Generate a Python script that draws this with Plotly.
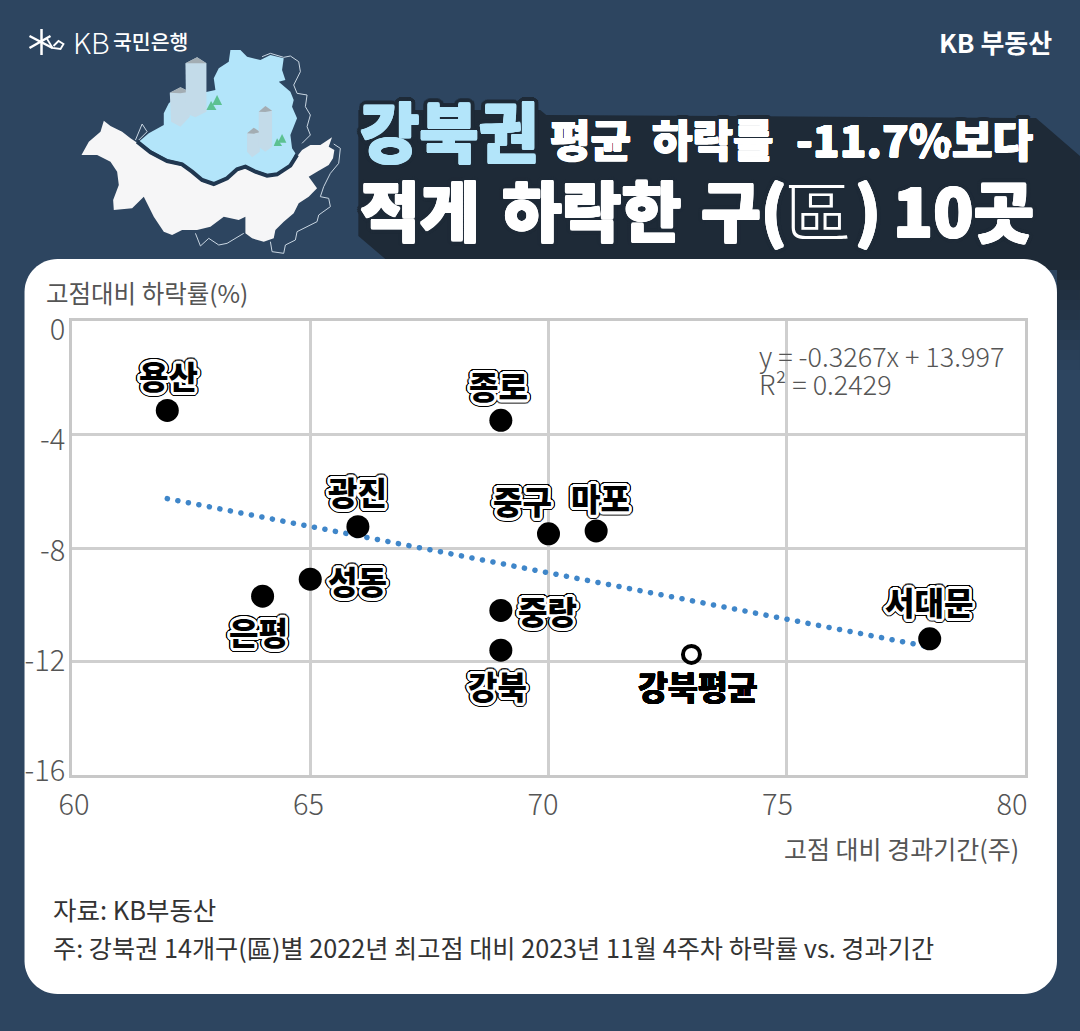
import math
import plotly.graph_objects as go

# values
districts = ["용산", "종로", "광진", "중구", "마포", "성동", "은평", "중랑", "강북", "서대문"]
weeks = [62, 69, 66, 70, 71, 65, 64, 69, 69, 78]
drops = [-3.15, -3.5, -7.25, -7.5, -7.4, -9.1, -9.7, -10.2, -11.6, -11.2]

avg_name = "강북평균"
avg_week = [73]
avg_drop = [-11.75]

trend_x = [62, 78]
trend_y = [-6.26, -11.49]

x_ticks = [60, 65, 70, 75, 80]
y_ticks = [0, -4, -8, -12, -16]
y_ticklabels = ["0", "-4", "-8", "-12", "-16"]

W, H = 1080, 1031
LEFT, RIGHT, TOP, BOTTOM = 71.5, 1025, 321, 775
BG = "#2d4560"
DARK = "#1e2a37"
SKY = "#b3e5fa"
FONT = "Noto Sans CJK KR"


# paper coordinates run over the plot area, so picture pixels are converted from there
def px(x):
    return (x - LEFT) / (RIGHT - LEFT)


def py(y):
    return (BOTTOM - y) / (BOTTOM - TOP)


def poly(points, close=True, scale=1.0):
    parts = []
    for i, (a, b) in enumerate(points):
        parts.append(("M" if i == 0 else "L") + f"{px(a * scale):.5f},{py(b * scale):.5f}")
    return " ".join(parts) + (" Z" if close else "")


def rounded(x0, y0, x1, y1, r):
    k = r * 0.45
    return (
        f"M{px(x0 + r)},{py(y0)} L{px(x1 - r)},{py(y0)} "
        f"C{px(x1 - k)},{py(y0)} {px(x1)},{py(y0 + k)} {px(x1)},{py(y0 + r)} "
        f"L{px(x1)},{py(y1 - r)} "
        f"C{px(x1)},{py(y1 - k)} {px(x1 - k)},{py(y1)} {px(x1 - r)},{py(y1)} "
        f"L{px(x0 + r)},{py(y1)} "
        f"C{px(x0 + k)},{py(y1)} {px(x0)},{py(y1 - k)} {px(x0)},{py(y1 - r)} "
        f"L{px(x0)},{py(y0 + r)} "
        f"C{px(x0)},{py(y0 + k)} {px(x0 + k)},{py(y0)} {px(x0 + r)},{py(y0)} Z"
    )


def ring(radius, color, n=16):
    out = []
    for i in range(n):
        a = 2 * math.pi * i / n
        out.append(f"{radius * math.cos(a):.1f}px {radius * math.sin(a):.1f}px 0 {color}")
    return out


# text-shadow rings stand in for the heavy outlined lettering
label_shadow = ", ".join(ring(1.5, "#ffffff", 12) + ring(2.7, "#ffffff", 16) + ring(4.1, "#000000", 20))
avg_shadow = ", ".join(ring(0.4, "#000000", 8))
title_big = ", ".join(ring(1.0, "#ffffff", 8) + ring(5, DARK, 18))
title_small = ", ".join(ring(0.5, "#ffffff", 8) + ring(4.5, DARK, 18))
title_sky = ", ".join(ring(1.0, SKY, 8) + ring(5, DARK, 18))

fig = go.Figure()

fig.add_trace(go.Scatter(x=trend_x, y=trend_y, mode="lines", hoverinfo="skip",
                         line=dict(color="#3f86c9", width=5.5, dash="0.1px,10.6px")))
fig.add_trace(go.Scatter(x=weeks, y=drops, mode="markers", text=districts,
                         marker=dict(color="#000000", size=23)))
fig.add_trace(go.Scatter(x=avg_week, y=avg_drop, mode="markers", text=[avg_name],
                         marker=dict(color="#ffffff", size=17, line=dict(color="#000000", width=4))))
# tick labels in the original sit a little off the gridlines, so they get their own axes
fig.add_trace(go.Scatter(x=[60], y=[0], xaxis="x2", yaxis="y2", mode="markers",
                         marker=dict(opacity=0), hoverinfo="skip"))

shapes = []


def add_path(path, fill=None, line=None, width=0, opacity=1):
    shapes.append(dict(type="path", path=path, xref="paper", yref="paper", layer="below",
                       fillcolor=fill or "rgba(0,0,0,0)", opacity=opacity,
                       line=dict(color=line or "rgba(0,0,0,0)", width=width)))


# title shadow and card
add_path(poly([(358, 110), (540, 110), (546, 115), (1036, 118), (1080, 156), (1080, 270),
               (385, 270), (385, 259), (358, 236)]), fill=DARK)
for i in range(10):
    add_path(poly([(1057, 270 + i * 10), (1080, 270 + i * 10), (1080, 280 + i * 10), (1057, 280 + i * 10)]),
             fill=DARK, opacity=0.95 - i * 0.095)
add_path(rounded(24, 259, 1057, 994, 33), fill="#ffffff")

# seoul map (3x zoom coordinates)
south = [(310, 362), (330, 378), (365, 395), (390, 415), (410, 428), (450, 462), (500, 487), (545, 498),
         (575, 520), (605, 545), (640, 555), (675, 540), (710, 512), (735, 505), (765, 520), (800, 530),
         (830, 525), (870, 495), (905, 450), (930, 435), (960, 435), (995, 412), (985, 440), (1002, 450),
         (998, 475), (985, 495), (950, 515), (925, 530), (950, 565), (925, 590), (895, 610), (880, 640),
         (850, 665), (825, 690), (820, 715), (790, 725), (755, 715), (735, 700), (735, 650), (715, 660),
         (670, 650), (630, 680), (590, 690), (545, 690), (515, 705), (490, 695), (460, 650), (430, 590),
         (395, 625), (340, 630), (338, 600), (355, 555), (350, 515), (330, 485), (290, 465), (243, 465),
         (265, 425), (300, 395)]
north = [(415, 425), (445, 400), (490, 375), (490, 340), (505, 310), (540, 280), (600, 280), (645, 270),
         (640, 235), (655, 205), (685, 185), (690, 150), (720, 150), (740, 170), (780, 180), (810, 165),
         (850, 175), (845, 210), (855, 240), (835, 245), (870, 275), (880, 300), (875, 320), (890, 355),
         (870, 405), (875, 445), (885, 460), (865, 500), (830, 520), (800, 522), (765, 510), (735, 495),
         (710, 505), (680, 530), (640, 548), (605, 535), (575, 510), (545, 488), (500, 478), (450, 450)]
river = [(410, 425), (450, 457), (500, 483), (545, 493), (575, 515), (605, 540), (640, 552), (680, 535),
         (710, 508), (735, 500), (765, 515), (800, 527), (830, 523), (870, 497), (890, 465)]
thin_lines = [
    [(785, 170), (810, 160), (850, 172), (870, 168), (895, 185), (900, 215), (880, 255), (890, 280),
     (920, 285), (915, 320), (930, 345), (920, 380), (930, 405), (905, 430)],
    [(405, 420), (425, 372), (440, 395), (415, 420)],
    [(585, 700), (600, 738), (625, 715), (655, 735), (680, 730), (730, 700)],
    [(810, 725), (815, 755), (850, 760), (855, 735), (885, 720), (890, 695), (950, 665), (955, 645),
     (990, 620), (985, 595), (960, 590), (970, 560), (990, 520), (1015, 490), (1020, 445), (1000, 432)],
]
for line in thin_lines:
    add_path(poly(line, close=False, scale=1 / 3), line="#c9d6e2", width=1)
add_path(poly(south, scale=1 / 3), fill="#f6f6f7")
add_path(poly(north, scale=1 / 3), fill=SKY)
add_path(poly(river, close=False, scale=1 / 3), line="#203750", width=4)

buildings = [
    [(508, 278), (540, 262), (568, 275), (568, 350), (540, 380), (512, 365)],
    [(555, 190), (590, 172), (618, 190), (618, 335), (585, 352), (568, 345), (557, 335)],
    [(740, 400), (760, 383), (780, 397), (778, 455), (755, 472), (740, 455)],
    [(775, 335), (795, 318), (815, 332), (815, 440), (795, 455), (775, 440)],
]
for b in buildings:
    add_path(poly(b, scale=1 / 3), fill="#c3dbe9")
    add_path(poly([b[0], b[1], b[2], (b[1][0], b[1][1] + 18)], scale=1 / 3), fill="#a3adb3")
for t in [[(650, 285), (665, 315), (635, 315)], [(632, 303), (648, 330), (618, 330)],
          [(845, 402), (858, 428), (832, 428)], [(830, 415), (845, 438), (820, 438)]]:
    add_path(poly(t, scale=1 / 3), fill="#5cc191")

# kb star logo
for s in [[(29, 36), (52, 48)], [(29, 48), (50, 36)], [(41, 29), (41, 55)]]:
    add_path(poly(s, close=False), line="#ffffff", width=2.5)
add_path(poly([(46, 38), (52, 48), (60, 49), (63, 44), (58, 41), (53, 46)], close=False), line="#ffffff", width=1.8)

annotations = []


def note(text, x, y, size, color="#ffffff", weight=400, anchor="left", shadow=None, family=FONT):
    font = dict(family=family, size=size, color=color, weight=weight)
    if shadow:
        font["shadow"] = shadow
    annotations.append(dict(text=text, x=px(x), y=py(y), xref="paper", yref="paper", showarrow=False,
                            xanchor=anchor, yanchor="middle", font=font))


note("KB", 70, 41, 29, weight=300)
note("국민은행", 111, 41, 20.5, weight=500)
note("KB 부동산", 1054, 41, 26, weight=700, anchor="right")

note("강북권", 358, 129, 64.5, color=SKY, weight=900, shadow=title_sky)
note("평균", 548, 138, 44, weight=900, shadow=title_small)
note("하락률", 650, 138, 44, weight=900, shadow=title_small)
note("-11.7%", 794, 138, 44, weight=900, shadow=title_small)
note("보다", 950, 138, 44, weight=900, shadow=title_small)

note("적게", 358, 208, 65, weight=900, shadow=title_big)
note("하락한", 500, 208, 65, weight=900, shadow=title_big)
note("구(", 699, 208, 65, weight=900, shadow=title_big)
note("區", 783, 208, 66, weight=300, family="Noto Sans CJK TC")
note(")", 853, 208, 65, weight=900, shadow=title_big)
note("10곳", 891, 208, 66, weight=900, shadow=title_big)

note("고점대비 하락률(%)", 43, 292, 24.5, color="#555555")
note("고점 대비 경과기간(주)", 1021, 848, 25, color="#555555", anchor="right")
note("y = -0.3267x + 13.997", 1006, 355, 27, color="#555555", anchor="right", weight=300)
note("R² = 0.2429", 757, 383, 27, color="#555555", weight=300)
note("자료: KB부동산", 50, 908, 25.5, color="#333333")
note("주: 강북권 14개구(區)별 2022년 최고점 대비 2023년 11월 4주차 하락률 vs. 경과기간", 50, 947, 25.2, color="#333333")

# label offsets from each point in pixels
label_shift = {
    "용산": (1, 35), "종로": (-2, 35), "광진": (0, 36), "중구": (-26, 34), "마포": (4, 34),
    "성동": (47, -1), "은평": (-4, -35), "중랑": (47, 0), "강북": (-3, -35), "서대문": (-1, 38),
}
for name, xv, yv in zip(districts, weeks, drops):
    sx, sy = label_shift[name]
    annotations.append(dict(text=name, x=xv, y=yv, xref="x", yref="y", xshift=sx, yshift=sy, showarrow=False,
                            font=dict(family=FONT, size=32, color="#000000", weight=900, shadow=label_shadow)))
annotations.append(dict(text=avg_name, x=avg_week[0], y=avg_drop[0], xref="x", yref="y", xshift=7, yshift=-31,
                        showarrow=False, font=dict(family=FONT, size=32.5, color="#000000", weight=900, shadow=avg_shadow)))

tick_font = dict(family=FONT, size=29, color="#555555", weight=300)

fig.update_layout(
    width=W, height=H, autosize=False, showlegend=False,
    paper_bgcolor=BG, plot_bgcolor="rgba(0,0,0,0)",
    margin=dict(l=LEFT, r=W - RIGHT, t=TOP, b=H - BOTTOM, pad=0),
    font=dict(family=FONT),
    shapes=shapes, annotations=annotations,
    xaxis=dict(range=[60, 80], tickvals=x_ticks, showticklabels=False, ticks="",
               showgrid=True, gridcolor="#cfcfcf", gridwidth=3, zeroline=False,
               showline=True, mirror=True, linecolor="#c8c8c8", linewidth=3),
    yaxis=dict(range=[-16, 0], tickvals=y_ticks, showticklabels=False, ticks="",
               showgrid=True, gridcolor="#cfcfcf", gridwidth=3, zeroline=False,
               showline=True, mirror=True, linecolor="#c8c8c8", linewidth=3),
    # range nudged so the labels land where the reference prints them
    xaxis2=dict(range=[59.957, 80.277], overlaying="x", anchor="free", position=0, side="bottom",
                tickvals=x_ticks, showgrid=False, zeroline=False, showline=False,
                ticks="outside", ticklen=4, tickcolor="rgba(0,0,0,0)", tickfont=tick_font),
    yaxis2=dict(range=[-16.145, 0.327], overlaying="y", anchor="free", position=0, side="left",
                tickvals=y_ticks, ticktext=y_ticklabels, showgrid=False, zeroline=False, showline=False,
                ticks="outside", ticklen=1, tickcolor="rgba(0,0,0,0)", tickfont=tick_font),
)

# round caps turn the dashed trend line into dots
css = ("var s=document.createElement('style');"
       "s.textContent='.js-line{stroke-linecap:round}';document.head.appendChild(s);"
       "document.body.style.margin='0';")
fig.write_html("out.html", config=dict(displayModeBar=False), post_script=css)
